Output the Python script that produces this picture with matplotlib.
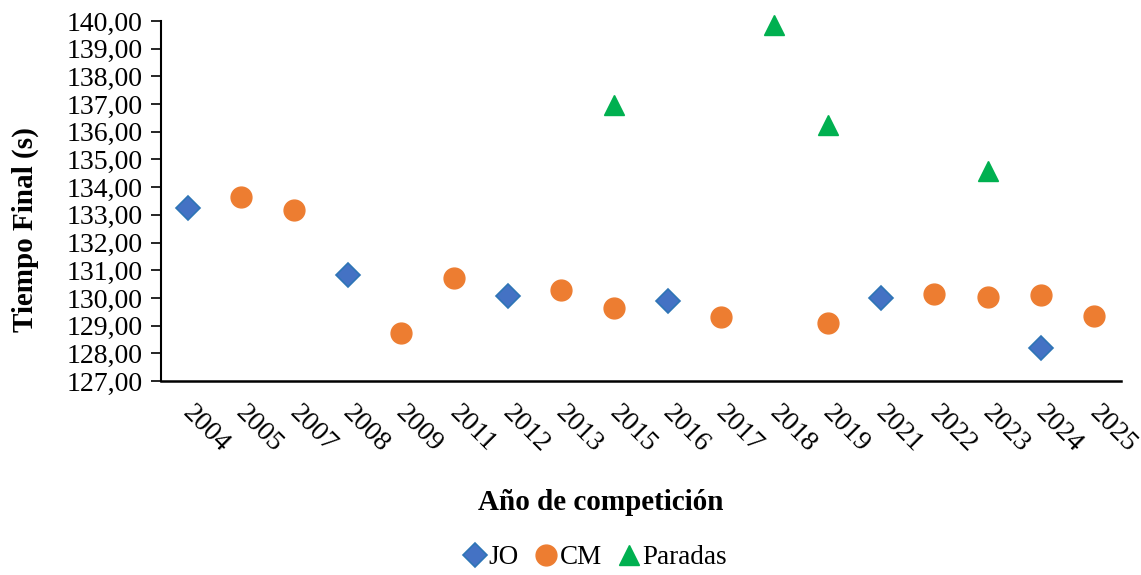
import matplotlib
matplotlib.use("Agg")
import matplotlib.pyplot as plt
import matplotlib.transforms as mtransforms
from matplotlib.ticker import FuncFormatter

years = ["2004", "2005", "2007", "2008", "2009", "2011", "2012", "2013", "2015",
         "2016", "2017", "2018", "2019", "2021", "2022", "2023", "2024", "2025"]

jo_years = ["2004", "2008", "2012", "2016", "2021", "2024"]
jo_vals = [133.24, 130.83, 130.07, 129.89, 130.01, 128.20]

cm_years = ["2005", "2007", "2009", "2011", "2013", "2015", "2017", "2019",
            "2022", "2023", "2024", "2025"]
cm_vals = [133.63, 133.19, 128.74, 130.73, 130.27, 129.65, 129.30, 129.08,
           130.13, 130.04, 130.12, 129.36]

par_years = ["2015", "2018", "2019", "2023"]
par_vals = [136.96, 139.84, 136.23, 134.59]

plt.rcParams['font.family'] = ['Liberation Serif', 'DejaVu Serif']

fig = plt.figure(figsize=(11.41, 5.75), dpi=100)
ax = fig.add_axes([161/1141, 1 - 381/575, (1121 - 161)/1141, (381 - 21)/575])

idx = {y: i for i, y in enumerate(years)}

ax.plot([idx[y] for y in jo_years], jo_vals, linestyle='none', marker='D',
        markersize=12.5, markerfacecolor='#4472C4', markeredgecolor='#2E75B6',
        markeredgewidth=1.2, label='JO', zorder=3, clip_on=False)
ax.plot([idx[y] for y in cm_years], cm_vals, linestyle='none', marker='o',
        markersize=15, markerfacecolor='#ED7D31', markeredgecolor='#ED7D31',
        label='CM', zorder=3, clip_on=False)
ax.plot([idx[y] for y in par_years], par_vals, linestyle='none', marker='^',
        markersize=14, markerfacecolor='#00B050', markeredgecolor='#00B050',
        label='Paradas', zorder=3, clip_on=False)

ax.set_xlim(-0.5, len(years) - 0.5)
ax.set_ylim(127, 140)
ax.set_yticks(range(127, 141))
ax.yaxis.set_major_formatter(FuncFormatter(lambda v, p: f"{v:.2f}".replace('.', ',')))
ax.tick_params(axis='y', direction='out', length=7, width=1.2, labelsize=20, pad=6)

ax.set_xticks(range(len(years)))
ax.set_xticklabels(years, rotation=-45, ha='left', va='top', fontsize=20)
ax.tick_params(axis='x', length=0, pad=14)
offset = mtransforms.ScaledTranslation(-10/100, 0, fig.dpi_scale_trans)
for lab in ax.get_xticklabels():
    lab.set_transform(lab.get_transform() + offset)

for s in ['top', 'right']:
    ax.spines[s].set_visible(False)
ax.spines['left'].set_linewidth(1.5)
ax.spines['bottom'].set_linewidth(1.8)

fig.text(25/1141, 1 - 230/575, 'Tiempo Final (s)', rotation=90, ha='center', va='center',
         fontsize=21, fontweight='bold')
fig.text(601/1141, 1 - 502/575, 'Año de competición', ha='center', va='center',
         fontsize=21, fontweight='bold')

fig.legend(loc='center', bbox_to_anchor=(597/1141, 1 - 558/575), ncol=3, frameon=False,
           fontsize=19.5, handlelength=0.6, handletextpad=0.2, columnspacing=0.7,
           markerscale=1.0)

fig.savefig('out.png', dpi=100)
